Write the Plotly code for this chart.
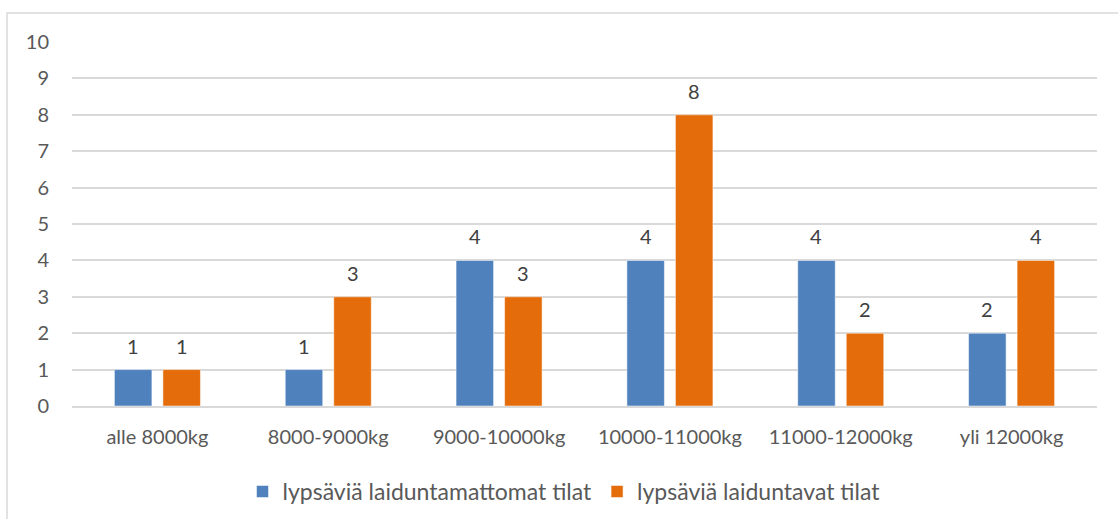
import plotly.graph_objects as go

categories = ["alle 8000kg", "8000-9000kg", "9000-10000kg", "10000-11000kg", "11000-12000kg", "yli 12000kg"]
series_names = ["lypsäviä laiduntamattomat tilat", "lypsäviä laiduntavat tilat"]
non_grazing = [1, 1, 4, 4, 4, 2]
grazing = [1, 3, 3, 8, 2, 4]
y_ticks = [0, 1, 2, 3, 4, 5, 6, 7, 8, 9, 10]

colors = ["#4F81BD", "#E46C0A"]
FONT = "Lato"
FS = 20
BARGAP = 0.432
GROUPGAP = 0.227

fig = go.Figure()
for name, vals, col in zip(series_names, [non_grazing, grazing], colors):
    fig.add_trace(go.Bar(
        x=categories, y=vals, name=name,
        marker=dict(color=col, line=dict(color="rgba(255,255,255,0.5)", width=1)),
    ))

# data labels above each bar
slot = (1 - BARGAP) / 2
for s, vals in enumerate([non_grazing, grazing]):
    off = (s - 0.5) * slot
    for i, v in enumerate(vals):
        fig.add_annotation(
            x=i + off, y=v, xref="x", yref="y", text=str(v), showarrow=False,
            yanchor="bottom", yshift=10,
            font=dict(family=FONT, size=FS, color="#404040"),
        )

W, H = 1118, 519
ml, mr, mt, mb = 72, 21, 42, 113
pw, ph = W - ml - mr, H - mt - mb
fig.add_shape(
    type="rect", xref="paper", yref="paper",
    x0=(7 - ml) / pw, x1=(W + 10 - ml) / pw,
    y0=-(mb + 10) / ph, y1=1 + (mt - 13) / ph,
    line=dict(color="#D9D9D9", width=1.5), fillcolor="rgba(0,0,0,0)", layer="below",
)

fig.update_layout(
    width=W, height=H,
    margin=dict(l=ml, r=mr, t=mt, b=mb, autoexpand=False),
    paper_bgcolor="white", plot_bgcolor="white",
    barmode="group", bargap=BARGAP, bargroupgap=GROUPGAP,
    font=dict(family=FONT, size=FS, color="#595959"),
    showlegend=True,
    legend=dict(orientation="h", x=0.48, xanchor="center", y=-0.235, yanchor="middle",
                font=dict(family=FONT, size=23, color="#595959"),
                itemwidth=30, tracegroupgap=0),
)
fig.update_xaxes(showgrid=False, showline=True, linecolor="#D9D9D9", linewidth=1.5,
                 ticks="", ticklabelstandoff=12, automargin=False,
                 tickfont=dict(family=FONT, size=FS, color="#595959"))
fig.update_yaxes(range=[0, 10], tickvals=y_ticks, showgrid=True, gridcolor="#D9D9D9", gridwidth=1.5,
                 zeroline=False, showline=False, ticks="", ticklabelstandoff=22, automargin=False,
                 tickfont=dict(family=FONT, size=FS, color="#595959"))

fig.write_html("out.html")
